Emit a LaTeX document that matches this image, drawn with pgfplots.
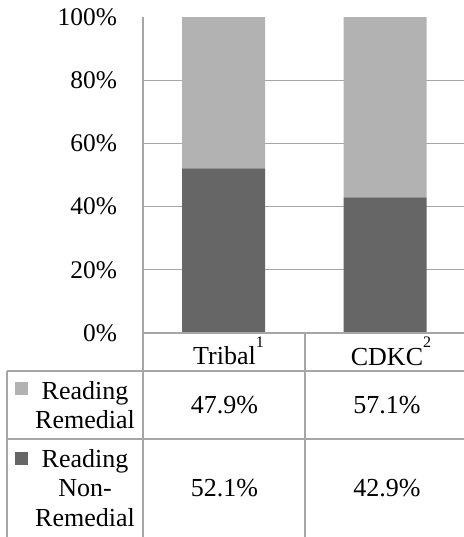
\documentclass[border=0pt]{standalone}
\usepackage{pgfplots}
\pgfplotsset{compat=1.18}
\usepackage{fontspec}
\setmainfont{Liberation Serif}
\definecolor{lightbar}{RGB}{178,178,178}
\definecolor{darkbar}{RGB}{102,102,102}
\definecolor{gridc}{RGB}{166,166,166}
\begin{document}
\fontsize{13pt}{14.8pt}\selectfont
\begin{tikzpicture}
\path[use as bounding box] (0,0) rectangle (231.5pt,268.5pt);
\begin{axis}[
  at={(71.5pt,102pt)}, anchor=south west,
  scale only axis, width=161.5pt, height=158pt,
  xmin=-0.5, xmax=1.5, ymin=0, ymax=100,
  xtick=\empty,
  ytick={0,20,40,60,80}, yticklabels={0\%,20\%,40\%,60\%,80\%},
  extra y ticks={100}, extra y tick labels={100\%},
  extra y tick style={grid=none},
  ymajorgrids, grid style={gridc, line width=0.6pt},
  major tick length=0pt,
  axis line style={draw=none},
  yticklabel style={font=\fontsize{12.7pt}{14.5pt}\selectfont, xshift=-8.5pt},
  ybar stacked, bar width=41.5pt,
]
\addplot[fill=darkbar, draw=none] coordinates {(0,52.1) (1,42.9)};
\addplot[fill=lightbar, draw=none] coordinates {(0,47.9) (1,57.1)};
\end{axis}
% table lines
\begin{scope}[gridc, line width=0.6pt]
\draw (71.5pt,260pt) -- (71.5pt,0pt);
\draw (71.5pt,102pt) -- (240pt,102pt);
\draw (152.5pt,102pt) -- (152.5pt,0pt);
\draw (3.5pt,83pt) -- (240pt,83pt);
\draw (3.5pt,49pt) -- (240pt,49pt);
\draw (3.5pt,83pt) -- (3.5pt,0pt);
\end{scope}
% header
\node at (112.25pt,93pt) {Tribal\rlap{\raisebox{0.68em}{\fontsize{8pt}{9pt}\selectfont 1}}};
\node at (193.5pt,93pt) {CDKC\rlap{\raisebox{0.68em}{\fontsize{8pt}{9pt}\selectfont 2}}};
% row labels
\fill[lightbar] (7.5pt,71pt) rectangle (13.8pt,77.3pt);
\node[align=center, inner sep=0pt] at (42.5pt,66pt) {Reading\\Remedial};
\fill[darkbar] (7.5pt,36pt) rectangle (13.8pt,42.3pt);
\node[align=center, inner sep=0pt] at (42.5pt,24.5pt) {Reading\\Non-\\Remedial};
% values
\node at (112.25pt,66pt) {47.9\%};
\node at (193.5pt,66pt) {57.1\%};
\node at (112.25pt,24.5pt) {52.1\%};
\node at (193.5pt,24.5pt) {42.9\%};
\end{tikzpicture}
\end{document}
